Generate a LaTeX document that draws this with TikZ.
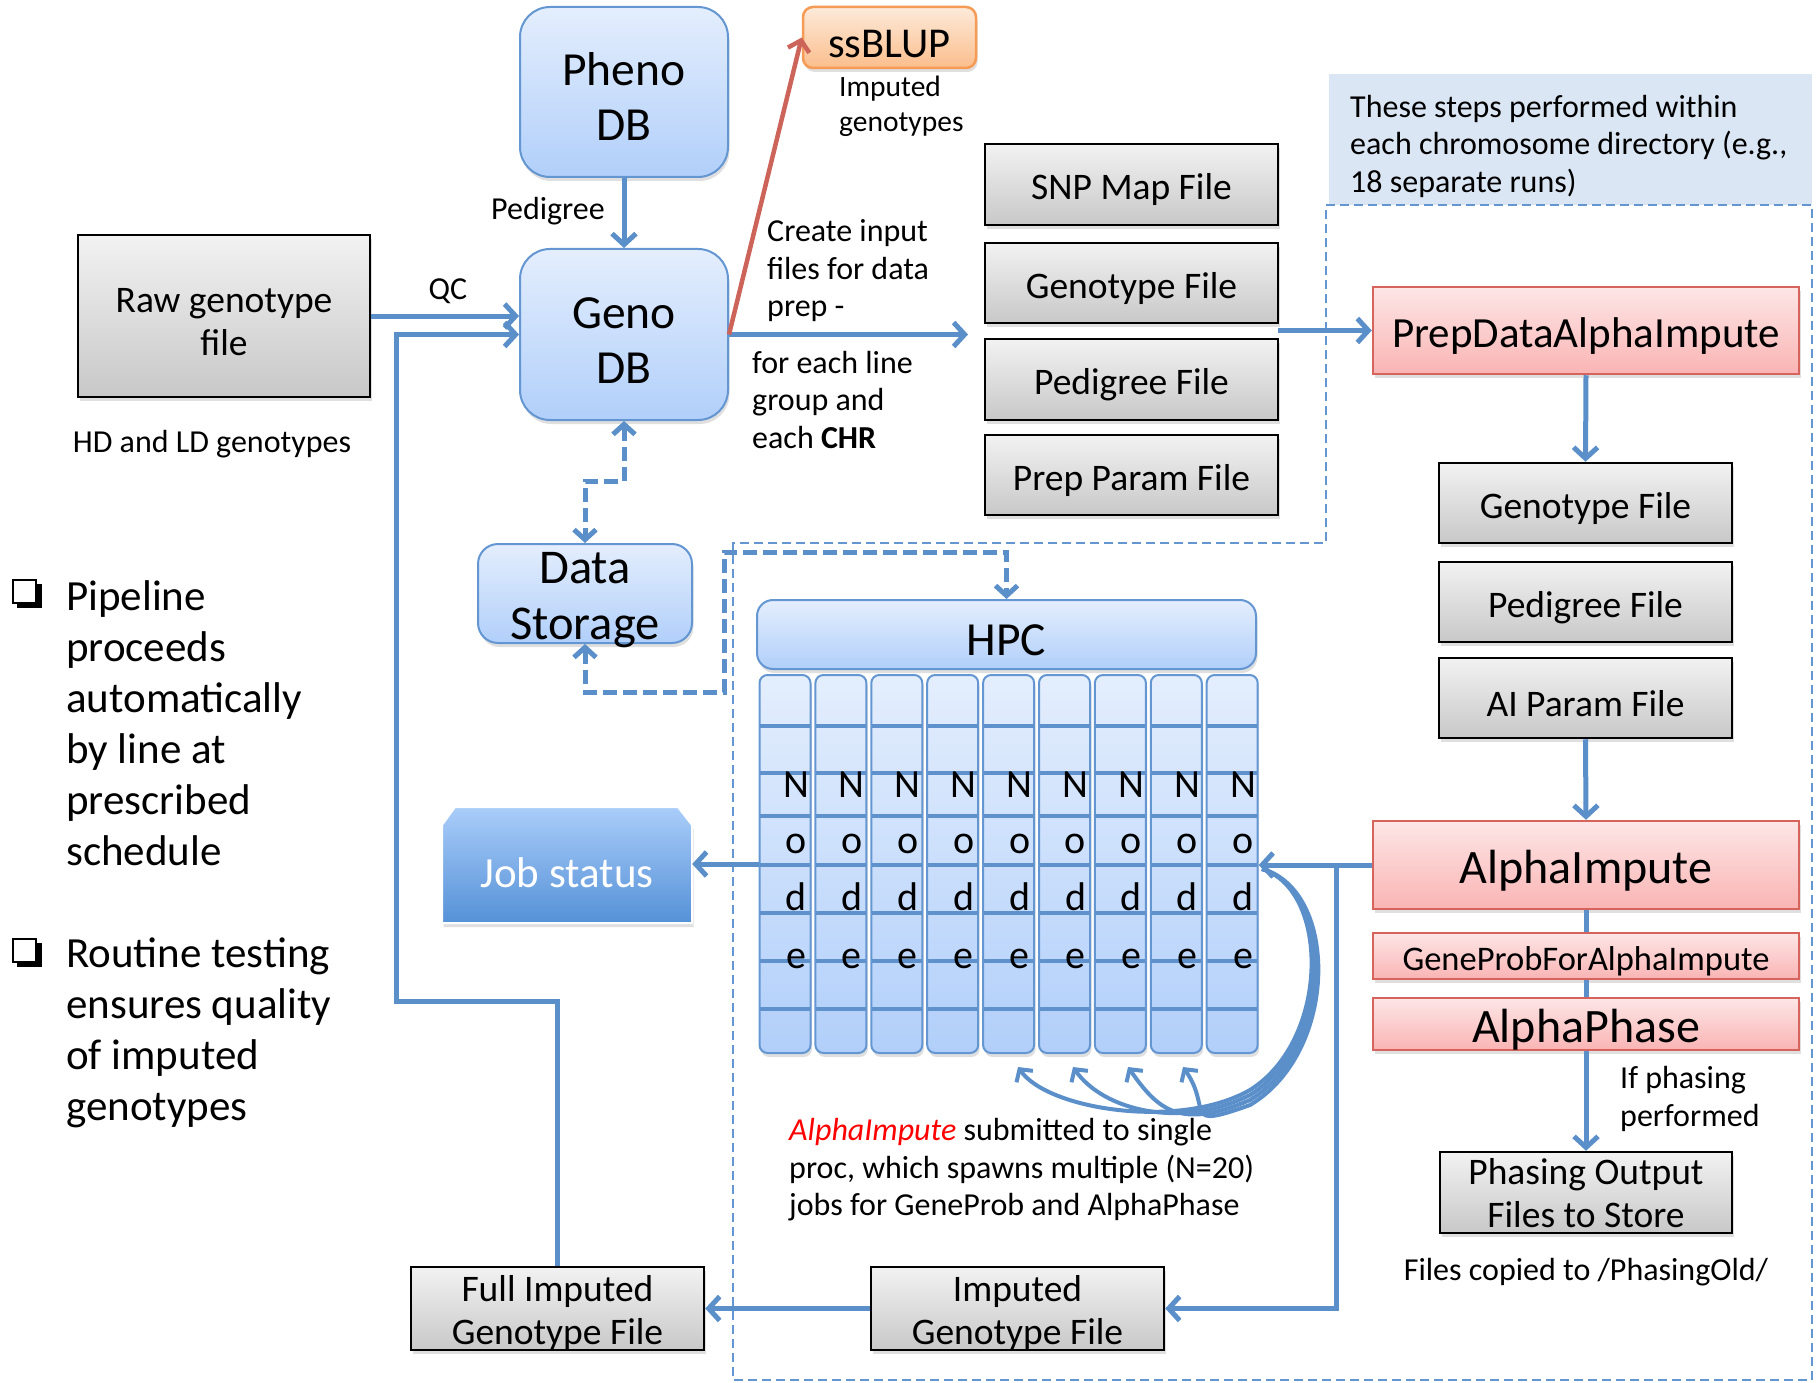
\documentclass[tikz,border=0pt]{standalone}
\usepackage{fontspec}
\setmainfont{Carlito}
\usetikzlibrary{arrows.meta,shadows}
\definecolor{connc}{RGB}{91,143,201}
\definecolor{bluetop}{RGB}{228,238,253}
\definecolor{bluebot}{RGB}{177,207,250}
\definecolor{blueborder}{RGB}{100,150,210}
\definecolor{greytop}{RGB}{242,242,242}
\definecolor{greybot}{RGB}{200,200,200}
\definecolor{redtop}{RGB}{253,230,230}
\definecolor{redbot}{RGB}{250,180,180}
\definecolor{redborder}{RGB}{215,100,92}
\definecolor{orangetop}{RGB}{253,234,218}
\definecolor{orangebot}{RGB}{251,190,140}
\definecolor{orangeborder}{RGB}{245,155,85}
\definecolor{jobtop}{RGB}{170,205,250}
\definecolor{jobbot}{RGB}{85,145,215}
\definecolor{infofill}{RGB}{219,230,244}
\definecolor{regionline}{RGB}{100,150,210}
\definecolor{redarrowc}{RGB}{205,100,90}
\definecolor{textred}{RGB}{255,0,0}
\definecolor{rowline}{RGB}{95,145,205}
\newcommand{\fsz}[2]{\fontsize{#1}{#2}\selectfont}
\newcommand{\dn}[1]{\raisebox{#1}{\vphantom{Fld}}}
\begin{document}
\begin{tikzpicture}[x=1pt,y=-1pt,
  shad/.style={drop shadow={shadow xshift=1.5pt,shadow yshift=-4pt,opacity=0.25}},
  greybox/.style={draw=black,line width=2.5pt,top color=greytop,bottom color=greybot,inner sep=0pt,align=center,font=\fsz{37.5}{43},shad},
  bluebox/.style={draw=blueborder,line width=2pt,top color=bluetop,bottom color=bluebot,inner sep=0pt,align=center,shad},
  redbox/.style={draw=redborder,line width=2.5pt,top color=redtop,bottom color=redbot,inner sep=0pt,align=center,shad},
  lbl/.style={inner sep=0pt,font=\fsz{32}{37.5}},
  lblleft/.style={lbl,align=left,anchor=west},
  link/.style={draw=connc,line width=5pt},
  arrow/.style={link,-{Straight Barb[length=11pt,width=24pt]}},
  dlink/.style={link,dash pattern=on 14pt off 6pt,{Straight Barb[length=10pt,width=22pt]}-{Straight Barb[length=10pt,width=22pt]}},
  region/.style={draw=regionline,line width=2pt,dash pattern=on 9pt off 5pt},
]
\useasboundingbox (0,0) rectangle (1816,1383);

% info box and region
\fill[infofill] (1329,74) rectangle (1812,205);
\node[lblleft] (info) at (1350,146) {These steps performed within\\each chromosome directory (e.g.,\\18 separate runs)};
\draw[region] (1326,205) -- (1812,205) -- (1812,1380) -- (733,1380) -- (733,543) -- (1326,543) -- cycle;

% left part
\node[bluebox,minimum width=208,minimum height=170,rounded corners=30pt,font=\fsz{47.5}{55}] (pheno) at (624,92) {\dn{10pt}Pheno\\DB};
\node[bluebox,minimum width=208,minimum height=171,rounded corners=30pt,font=\fsz{47.5}{55}] (geno) at (624,334.5) {\dn{10pt}Geno\\DB};
\node[greybox,minimum width=292,minimum height=162] (raw) at (224,316) {\dn{11pt}Raw genotype\\file};
\node[draw=orangeborder,line width=2.5pt,top color=orangetop,bottom color=orangebot,rounded corners=10pt,minimum width=173,minimum height=61,inner sep=0pt,font=\fsz{42.5}{48},shad] (ssblup) at (889.5,37.5) {\dn{10pt}ssBLUP};
\node[bluebox,minimum width=214,minimum height=99,rounded corners=20pt] (store) at (585,593.5) {};
\node[inner sep=0pt,align=center,font=\fsz{48.5}{56}] (storetxt) at (585,600.5) {Data\\Storage};

\node[lbl] (qc) at (448,291) {QC};
\node[lbl] (ped) at (548,211.5) {Pedigree};
\node[lbl] (hdld) at (212,444) {HD and LD genotypes};
\node[lblleft,font=\fsz{29.5}{35}] (impg) at (839,106.5) {Imputed\\genotypes};
\node[lblleft] (create) at (767,271) {Create input\\files for data\\prep -};
\node[lblleft] (foreachlbl) at (752,400) {for each line\\group and\\each \textbf{CHR}};

% input files
\node[greybox,minimum width=293,minimum height=81] (snp) at (1131.5,184.5) {\dn{11pt}SNP Map File};
\node[greybox,minimum width=293,minimum height=80] (gfile) at (1131.5,283) {\dn{11pt}Genotype File};
\node[greybox,minimum width=293,minimum height=81] (pfile) at (1131.5,379.5) {\dn{11pt}Pedigree File};
\node[greybox,minimum width=293,minimum height=80] (ppfile) at (1131.5,475) {\dn{11pt}Prep Param File};

% right column
\node[redbox,minimum width=426,minimum height=87,font=\fsz{43}{50}] (prep) at (1586,330.5) {\dn{11pt}PrepDataAlphaImpute};
\node[greybox,minimum width=293,minimum height=80] (gfile2) at (1585.5,503) {\dn{11pt}Genotype File};
\node[greybox,minimum width=293,minimum height=80] (pfile2) at (1585.5,602) {\dn{11pt}Pedigree File};
\node[greybox,minimum width=293,minimum height=80] (aifile) at (1585.5,698) {\dn{11pt}AI Param File};
\node[redbox,minimum width=426,minimum height=88,font=\fsz{48}{55}] (ai) at (1586,865) {\dn{11pt}AlphaImpute};
\node[redbox,minimum width=426,minimum height=46,font=\fsz{34.5}{40}] (gp) at (1586,956) {\dn{10pt}GeneProbForAlphaImpute};
\node[redbox,minimum width=426,minimum height=46,font=\fsz{48}{55}] (ap) at (1586,1024) {\dn{11pt}AlphaPhase};
\node[greybox,minimum width=292,minimum height=81] (phase) at (1586,1192.5) {\dn{2pt}Phasing Output\\Files to Store};
\node[lbl] (copied) at (1586,1272) {Files copied to /PhasingOld/};
\node[lblleft] (ifph) at (1620,1099) {If phasing\\performed};

% bottom boxes
\node[greybox,minimum width=293,minimum height=81] (imp) at (1017.5,1308.5) {\dn{8pt}Imputed\\Genotype File};
\node[greybox,minimum width=293,minimum height=81] (full) at (557.5,1308.5) {\dn{8pt}Full Imputed\\Genotype File};

% HPC
\node[bluebox,minimum width=499,minimum height=69,rounded corners=16pt,font=\fsz{47.5}{50}] (hpc) at (1006.5,634.5) {\dn{10pt}HPC};
\foreach \i in {1,...,9}{
  \node[bluebox,minimum width=51,minimum height=378,rounded corners=8pt] (col\i) at ({785+(\i-1)*55.9},864) {};
  \foreach \yy in {726,773,816,865,913,961,1009}
    \draw[rowline,line width=4pt] ({760+(\i-1)*55.9},\yy) -- ({810+(\i-1)*55.9},\yy);
  \node[inner sep=0pt,anchor=base,font=\fsz{40}{40}] (lN\i) at ({796+(\i-1)*55.9},797) {N};
  \node[inner sep=0pt,anchor=base,font=\fsz{40}{40}] (lo\i) at ({796+(\i-1)*55.9},853) {o};
  \node[inner sep=0pt,anchor=base,font=\fsz{40}{40}] (ld\i) at ({796+(\i-1)*55.9},910) {d};
  \node[inner sep=0pt,anchor=base,font=\fsz{40}{40}] (le\i) at ({796+(\i-1)*55.9},968) {e};
}

% job status
\path[draw=white,line width=2pt,top color=jobtop,bottom color=jobbot,shad] (442,825) -- (455,807) -- (678,807) -- (692,825) -- (692,923) -- (442,923) -- cycle;
\node[inner sep=0pt,minimum width=250,minimum height=100,text=white,font=\fsz{43}{48}] (job) at (567,873) {Job status};

% caption
\node[lblleft] (caption) at (789,1170) {{\color{textred}\itshape AlphaImpute} submitted to single\\proc, which spawns multiple (N=20)\\jobs for GeneProb and AlphaPhase};

% bullets (shadowed squares)
\fill[black] (17,584) rectangle (42,608);
\draw[fill=white,line width=2pt] (13,580) rectangle (36,603);
\fill[black] (17,943) rectangle (42,967);
\draw[fill=white,line width=2pt] (13,939) rectangle (36,962);
\node[inner sep=0pt,align=left,anchor=north west,font=\fsz{43}{51}] (txt1) at (66,580) {Pipeline\\proceeds\\automatically\\by line at\\prescribed\\schedule};
\node[inner sep=0pt,align=left,anchor=north west,font=\fsz{43}{51}] (txt2) at (66,938) {Routine testing\\ensures quality\\of imputed\\genotypes};

% connectors
\coordinate (gout) at (968,334.5);
\coordinate (fout) at (1278,330.5);
\coordinate (branch) at (1336,865);
\coordinate (spawn) at (1262,869);
\draw[arrow] (pheno.south) -- (geno.north);
\draw[arrow] (raw.east) -- (raw.east -| geno.west);
\draw[arrow] (geno.east) -- (gout);
\draw[draw=redarrowc,line width=4.5pt,-{Straight Barb[length=10pt,width=22pt]}] (geno.east) -- (ssblup.west);
\draw[arrow] (fout) -- (prep.west);
\draw[arrow] (prep.south) -- (gfile2.north);
\draw[arrow] (aifile.south) -- (ai.north);
\draw[link] (ai.south) -- (gp.north);
\draw[link] (gp.south) -- (ap.north);
\draw[arrow] (ap.south) -- (phase.north);
\draw[arrow] (ai.west) -- (col9.east |- ai.west);
\draw[arrow] (branch) |- (imp.east);
\draw[arrow] (imp.west) -- (full.east);
\draw[arrow] (full.north) -- (557.5,1001) -- (396,1001) -- (396,334.5) -- (geno.west);
\draw[arrow] (col1.west) -- (job.east |- col1.west);
\draw[dlink] (geno.south) -- (624,481) -- (585,481) -- (store.north);
\draw[dlink] (store.south) -- (585,692) -- (724,692) -- (724,552) -- (1006.5,552) -- (hpc.north);
\foreach \k/\xt in {0/1018,1/1073,2/1128,3/1183}
  \draw[link,line width=4pt,-{Straight Barb[length=9pt,width=20pt]}] (spawn) .. controls ({1330+3*\k},890) and ({1330+3*\k},{1040+4*\k}) .. (1250,{1090+5*\k}) .. controls (1180,1130) and ({\xt+30},1110) .. (\xt,1067);
\end{tikzpicture}
\end{document}
